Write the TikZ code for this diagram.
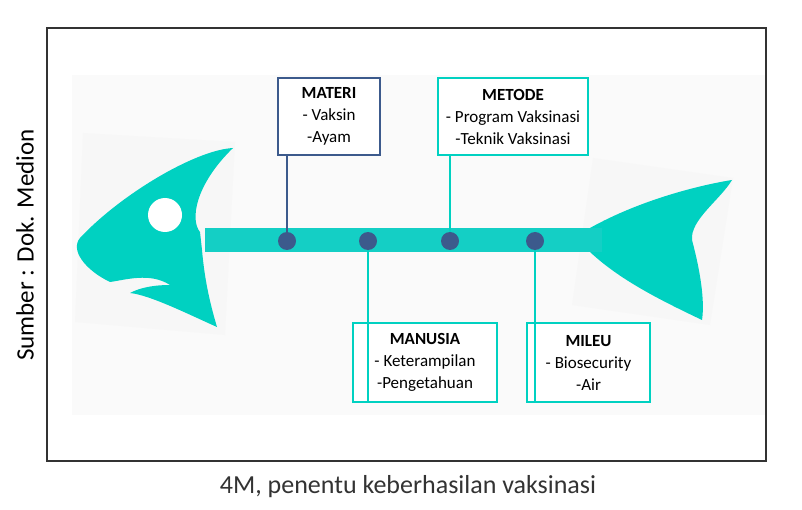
\documentclass[tikz,border=0pt]{standalone}
\usepackage{fontspec}
\setmainfont{Carlito}
\usetikzlibrary{positioning}
\definecolor{fishteal}{HTML}{00D1C1}
\definecolor{spineteal}{HTML}{14CFC5}
\definecolor{navy}{HTML}{3C5A8C}
\definecolor{panel}{HTML}{F7F7F7}
\tikzset{
  catbox/.style={draw=#1, line width=1.6pt, fill=white, align=center,
    font=\fontsize{17}{22}\selectfont, inner sep=0pt},
  joint/.style={circle, fill=navy, minimum size=18pt, inner sep=0pt},
  stem/.style={line width=1.6pt}
}
\begin{document}
\begin{tikzpicture}[x=1pt,y=-1pt]

    \useasboundingbox (0,0) rectangle (802,510);
    \fill[white] (0,0) rectangle (802,510);
    \fill[panel!60] (72,75) rectangle (766,415);
    \draw[black!80, line width=1.5pt] (47,28) rectangle (766,461);

    % head
    \fill[panel] (83,133) -- (235,142) -- (225,335) -- (75,322) -- cycle;
    \fill[fishteal] (233,148) .. controls (195,185) and (190,220) .. (200,232)
        -- (202,250) .. controls (205,285) and (212,310) .. (217,327)
        .. controls (190,315) and (150,295) .. (130,293)
        .. controls (145,285) and (165,285) .. (170,285)
        .. controls (150,272) and (125,280) .. (110,282)
        .. controls (85,270) and (70,250) .. (80,238)
        .. controls (120,195) and (195,150) .. (233,148) -- cycle;
    \fill[white] (165,215) circle (17);

    % tail
    \fill[panel] (593,158) -- (733,178) -- (710,325) -- (572,305) -- cycle;
    \fill[fishteal] (590,228) .. controls (640,200) and (700,185) .. (732,180)
        .. controls (720,200) and (690,220) .. (692,240)
        .. controls (700,270) and (705,300) .. (702,320)
        .. controls (660,300) and (620,280) .. (590,252) -- cycle;

    % spine
    \fill[spineteal] (205,228) rectangle (602,252);
    \node[joint] (j1) at (287,241) {};
    \node[joint] (j2) at (368,241) {};
    \node[joint] (j3) at (450,241) {};
    \node[joint] (j4) at (535,241) {};

    % causes
    \node[catbox=navy, minimum width=102pt, minimum height=77pt] (materi) at (329,116.5)
        {\textbf{MATERI}\\- Vaksin\\-Ayam};
    \node[catbox=fishteal, minimum width=150pt, minimum height=77pt] (metode) at (513,116.5)
        {\textbf{METODE}\\- Program Vaksinasi\\-Teknik Vaksinasi};
    \node[catbox=fishteal, minimum width=144pt, minimum height=79pt] (manusia) at (425,362.5)
        {\textbf{MANUSIA}\\- Keterampilan\\-Pengetahuan};
    \node[catbox=fishteal, minimum width=123pt, minimum height=79pt] (mileu) at (588.5,362.5)
        {\textbf{MILEU}\\- Biosecurity\\-Air};

    \draw[stem, navy] (j1) -- (j1 |- materi.south);
    \draw[stem, fishteal] (j3) -- (j3 |- metode.south);
    \draw[stem, fishteal] (j2) -- (j2 |- manusia.south);
    \draw[stem, fishteal] (j4) -- (j4 |- mileu.south);

    \node[rotate=90, font=\fontsize{25}{28}\selectfont] (source) at (25,245) {Sumber : Dok. Medion};
    \node[font=\fontsize{26}{30}\selectfont, text=black!80] (caption) at (408,487) {4M, penentu keberhasilan vaksinasi};

\end{tikzpicture}
\end{document}
